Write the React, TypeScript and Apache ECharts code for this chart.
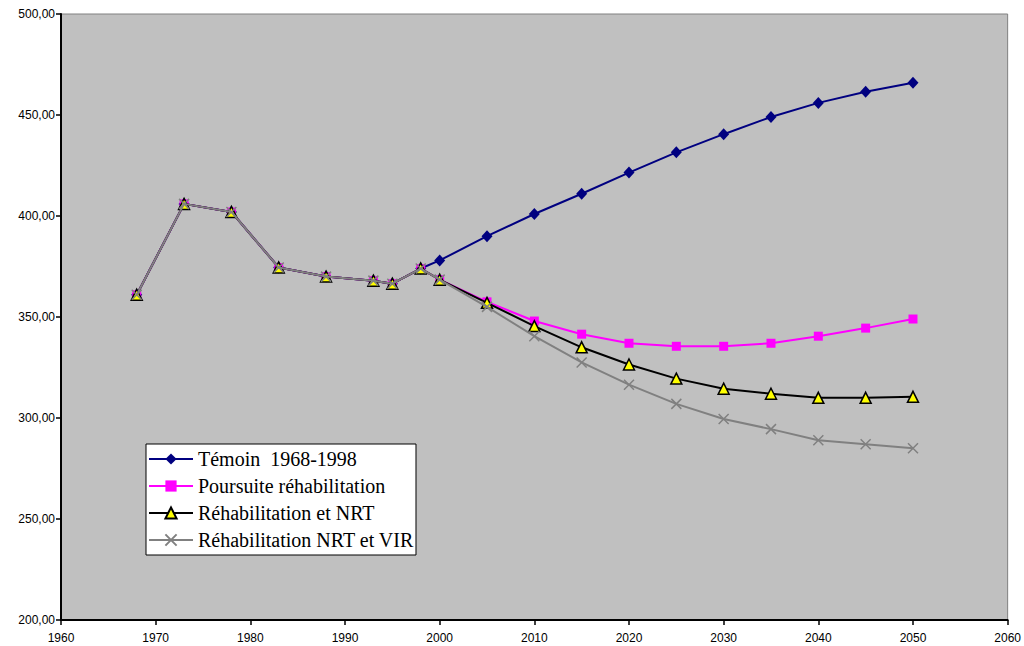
import React, { useEffect, useRef } from "react";
import * as echarts from "echarts";

const histYears = [1968, 1973, 1978, 1983, 1988, 1993, 1995, 1998];
const histValues = [361, 406, 402, 374.5, 370, 368, 366.5, 374];
const futureYears = [2000, 2005, 2010, 2015, 2020, 2025, 2030, 2035, 2040, 2045, 2050];
const temoinFuture = [378, 390, 401, 411, 421.5, 431.5, 440.5, 449, 456, 461.5, 466];
const poursuiteFuture = [368.5, 357.5, 348, 341.5, 337, 335.5, 335.5, 337, 340.5, 344.5, 349];
const nrtFuture = [368.5, 357, 345.5, 335, 326.5, 319.5, 314.5, 312, 310, 310, 310.5];
const virFuture = [368.5, 355, 340.5, 327.5, 316.5, 307, 299.5, 294.5, 289, 287, 285];
const seriesNames = [
  "Témoin  1968-1998",
  "Poursuite réhabilitation",
  "Réhabilitation et NRT",
  "Réhabilitation NRT et VIR",
];

function build(future: number[]) {
  const pts: number[][] = histYears.map((y, i) => [y, histValues[i]]);
  futureYears.forEach((y, i) => pts.push([y, future[i]]));
  return pts;
}

export default function App() {
  const ref = useRef<HTMLDivElement>(null);
  useEffect(() => {
    if (!ref.current) return;
    const chart = echarts.init(ref.current, null, { renderer: "svg" });
    const axisFont = { fontFamily: "Arial, 'Liberation Sans', sans-serif", fontSize: 12, color: "#000" };
    chart.setOption({
      animation: false,
      backgroundColor: "#fff",
      grid: {
        left: 61,
        top: 14,
        right: 16,
        bottom: 26,
        show: true,
        backgroundColor: "#c0c0c0",
        borderColor: "#808080",
        borderWidth: 1,
      },
      legend: {
        orient: "vertical",
        left: 146,
        top: 444,
        backgroundColor: "#fff",
        borderColor: "#000",
        borderWidth: 1,
        borderRadius: 0,
        padding: [5, 2, 5, 2],
        itemWidth: 44,
        itemHeight: 14,
        itemGap: 7,
        textStyle: { fontFamily: "'Liberation Serif', 'Times New Roman', serif", fontSize: 20, color: "#000" },
        data: seriesNames,
      },
      xAxis: {
        type: "value",
        min: 1960,
        max: 2060,
        interval: 10,
        axisLine: { show: true, onZero: false, lineStyle: { color: "#000", width: 2 } },
        axisTick: { show: true, length: 5, lineStyle: { color: "#000", width: 1.5 } },
        axisLabel: { ...axisFont, margin: 12, formatter: (v: number) => String(v) },
        splitLine: { show: false },
      },
      yAxis: {
        type: "value",
        min: 200,
        max: 500,
        interval: 50,
        axisLine: { show: true, onZero: false, lineStyle: { color: "#000", width: 2 } },
        axisTick: { show: true, length: 5, lineStyle: { color: "#000", width: 1.5 } },
        axisLabel: {
          ...axisFont,
          margin: 6,
          formatter: (v: number) => v.toFixed(2).replace(".", ","),
        },
        splitLine: { show: false },
      },
      series: [
        {
          name: seriesNames[0],
          type: "line",
          data: build(temoinFuture),
          symbol: "diamond",
          symbolSize: [11, 12],
          itemStyle: { color: "#000080" },
          lineStyle: { color: "#000080", width: 2 },
          z: 2,
        },
        {
          name: seriesNames[1],
          type: "line",
          data: build(poursuiteFuture),
          symbol: "rect",
          symbolSize: 9,
          itemStyle: { color: "#ff00ff" },
          lineStyle: { color: "#ff00ff", width: 2 },
          z: 3,
        },
        {
          name: seriesNames[2],
          type: "line",
          data: build(nrtFuture),
          symbol: "triangle",
          symbolSize: 11,
          itemStyle: { color: "#ffff00", borderColor: "#000", borderWidth: 1.5 },
          lineStyle: { color: "#000", width: 2 },
          z: 4,
        },
        {
          name: seriesNames[3],
          type: "line",
          data: build(virFuture),
          symbol: "path://M0,0L10,10M10,0L0,10",
          symbolSize: 10,
          itemStyle: { color: "none", borderColor: "#808080", borderWidth: 1.5 },
          lineStyle: { color: "#808080", width: 2 },
          z: 5,
        },
      ],
    });
    return () => chart.dispose();
  }, []);
  return (
    <div
      ref={ref}
      style={{ position: "fixed", left: 0, top: 0, width: 1024, height: 646 }}
    />
  );
}
